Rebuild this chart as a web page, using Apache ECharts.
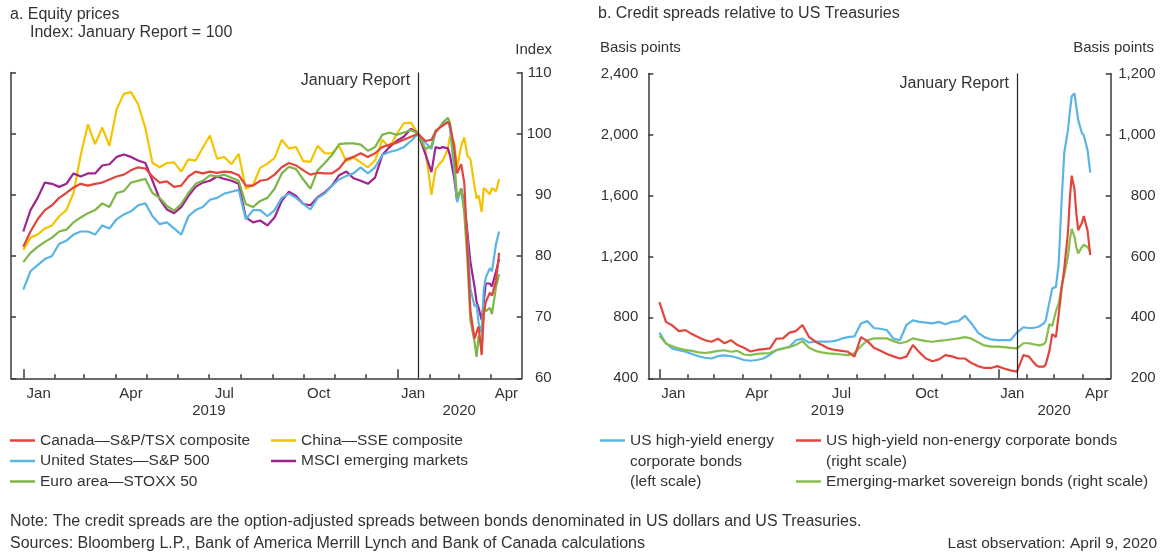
<!DOCTYPE html>
<html>
<head>
<meta charset="utf-8">
<title>Equity prices and credit spreads</title>
<script src="https://cdn.jsdelivr.net/npm/echarts@6/dist/echarts.min.js"></script>
<style>
  html, body { margin: 0; padding: 0; background: #fff; }
  #chart { width: 1167px; height: 554px; }
</style>
</head>
<body>
<div id="chart"></div>
<script>
// ---- Observation dates (weekly through 2019, denser during the 2020 sell-off) ----
const dates = [
  '2019-01-01','2019-01-08','2019-01-15','2019-01-22','2019-01-29',
  '2019-02-05','2019-02-12','2019-02-19','2019-02-26',
  '2019-03-05','2019-03-12','2019-03-19','2019-03-26',
  '2019-04-02','2019-04-09','2019-04-16','2019-04-23','2019-04-30',
  '2019-05-07','2019-05-14','2019-05-21','2019-05-28',
  '2019-06-04','2019-06-11','2019-06-18','2019-06-25',
  '2019-07-02','2019-07-09','2019-07-16','2019-07-23','2019-07-30',
  '2019-08-06','2019-08-13','2019-08-20','2019-08-27',
  '2019-09-03','2019-09-10','2019-09-17','2019-09-24',
  '2019-10-01','2019-10-08','2019-10-15','2019-10-22','2019-10-29',
  '2019-11-05','2019-11-12','2019-11-19','2019-11-26',
  '2019-12-03','2019-12-10','2019-12-17','2019-12-24','2019-12-31',
  '2020-01-07','2020-01-14','2020-01-21','2020-01-28',
  '2020-02-03','2020-02-07','2020-02-11','2020-02-14','2020-02-19','2020-02-21','2020-02-25','2020-02-28',
  '2020-03-03','2020-03-06','2020-03-09','2020-03-12','2020-03-16','2020-03-18','2020-03-20','2020-03-23','2020-03-25','2020-03-27','2020-03-31',
  '2020-04-02','2020-04-06','2020-04-09'
];

// ---- Panel a: equity indexes (January Report = 100) ----
const canadaTSX = [
  81.5, 84, 86, 87.5, 88.3,
  89.5, 90.3, 91.2, 91.8,
  91.5, 91.8, 92, 92.5,
  93, 93.3, 94, 94.5, 94.3,
  93, 92, 92.2, 91.3,
  91.5, 93, 93.8, 93.5,
  93.8, 93.6, 93.8, 93.7, 93.2,
  91.5, 91.5, 92.3, 92.5,
  93.3, 94.5, 95.2, 94.8,
  94, 93.3, 93.6, 93.5, 93.5,
  94.3, 95.8, 96.2, 96.8,
  96.2, 96.8, 97.8, 98.2, 98.5,
  99, 99.5, 100, 98.8,
  99, 100.3, 101, 101.3, 101.9, 101.5, 98, 93.5,
  95, 92, 81.5, 71, 66.5, 67.5, 68.5, 63.8, 70.5, 72.5, 74,
  73.5, 76, 80.5
];
const chinaSSE = [
  81, 83, 83.5, 84.5, 85,
  86.5, 87.5, 90.3, 96.5,
  101.5, 98.3, 101, 98,
  104, 106.5, 106.8, 104.8, 100.9,
  95.2, 94.5, 95.2, 95.3,
  93.8, 95.8, 95.6, 97.7,
  99.7, 95.9, 96.2, 95, 96.7,
  91, 91.6, 94.4, 95.1,
  96, 99, 97.6, 97.8,
  95.5, 95.4, 98, 96.8, 96.8,
  98, 95.5, 96.1, 95.3,
  94.5, 95.6, 99, 97.7, 99.9,
  101.7, 101.8, 100, 97.5,
  90, 94.2, 95.1, 95.6, 97.5, 99.6, 98.7, 94.4,
  98, 99.4, 96.4, 95.8, 91.4, 89.4, 89.9, 87.2, 91.1, 90.8, 90.1,
  91.1, 90.6, 92.6
];
const usSP500 = [
  74.5, 77.5, 78.5, 79.5, 80,
  82, 82.5, 83.5, 84,
  84, 83.5, 85, 84.5,
  86, 86.8, 87.3, 88.3, 88.6,
  86.5, 85.2, 85.5, 84.5,
  83.5, 86.5, 87.5, 88,
  89.2, 89.5, 90.2, 90.5, 90.8,
  86, 87.5, 87.5, 86.5,
  87.5, 89.5, 90.2, 89.5,
  88.5, 87.6, 89.5, 90.2, 91.5,
  92.5, 93.1, 93.5, 94.5,
  93.5, 94.5, 96.5, 97, 97.3,
  97.8, 98.8, 100, 98.5,
  97.5, 100.2, 101, 101.5, 102, 100.9, 94.5, 88.8,
  91, 88, 82.7, 74.7, 71.8, 72, 69, 67.4, 74.5, 76.5, 78,
  77.5, 82, 84
];
const msciEM = [
  84, 87.5, 89.5, 92, 91.8,
  91.3, 91.8, 93.5, 93,
  93.5, 93.5, 94.8, 95,
  96.2, 96.6, 96.2, 95.6, 95.2,
  92.3, 89.3, 87.6, 87,
  88, 89.8, 91.3, 92,
  92.3, 93, 92.6, 92.3, 91.8,
  86.3, 85.5, 85.8, 85,
  86.3, 89, 90.5, 89.8,
  88.5, 88.3, 89.6, 90.4, 91.5,
  93.2, 93.8, 92.7, 92.3,
  91.8, 92.8, 96.5, 97.8, 98.8,
  99.5, 100.8, 100, 96.7,
  93.7, 97.8, 97.6, 97.8, 97.6, 96.5, 92.9, 89.1,
  91, 88.5, 84, 79, 75, 72.5, 71.5, 69.5, 72.5, 75.5, 75.5,
  75, 77.5, 79.5
];
const euroStoxx50 = [
  79, 80.5, 81.5, 82.3, 83,
  84, 84.3, 85.5, 86.3,
  87, 87.5, 88.6, 88,
  90.3, 90.6, 92, 92.3, 92.6,
  90.3, 89.5, 88.2, 87.4,
  88.5, 90.3, 91.8, 92.3,
  93.2, 93, 93.3, 92.8, 92.3,
  88.5, 88, 89, 89.5,
  91, 93.5, 94.6, 94.2,
  92.5, 91, 94, 95.2, 96.5,
  98.3, 98.4, 98.4, 98.2,
  97.2, 97.8, 99.8, 100.2, 99.8,
  100.2, 100.6, 100, 97.5,
  98, 100.5, 101, 101.8, 102.6, 101.8, 96, 89.5,
  91, 87, 79.5, 69.5, 66, 63.5, 67, 65, 71.5, 71, 71.5,
  70.5, 75, 77
];

// ---- Panel b: option-adjusted spreads, basis points ----
const usHYEnergy = [          // left scale
  700, 630, 595, 585, 575,
  560, 545, 535, 530,
  545, 550, 545, 535,
  520, 515, 520, 530, 555,
  585, 595, 607, 650,
  660, 635, 640, 640,
  640, 645, 660, 670, 675,
  760, 775, 730, 725,
  715, 660, 650, 750,
  780, 770, 765, 760, 770,
  755, 770, 775, 810,
  760, 700, 670, 655, 650,
  650, 650, 700, 735,
  730, 730, 735, 740, 760, 780, 900, 990,
  1000, 1150, 1550, 1880, 2030, 2150, 2250, 2270, 2180, 2094, 2010,
  1995, 1900, 1750
];
const usHYNonEnergy = [       // right scale
  450, 385, 373, 355, 358,
  345, 335, 325, 320,
  330, 315, 325, 309,
  300, 288, 293, 296, 298,
  330, 331, 350, 355,
  375, 336, 320, 309,
  298, 293, 290, 287, 271,
  335, 322, 300, 290,
  280, 272, 265, 271,
  309, 285, 265, 256, 262,
  276, 272, 265, 265,
  250, 240, 234, 234, 240,
  232, 226, 222, 276,
  271, 256, 242, 238, 238, 245, 290, 345,
  335, 410, 490, 560, 680, 790, 865, 820, 740, 686, 710,
  732, 686, 604
];
const emSovereign = [         // right scale
  340, 314, 305, 298, 293,
  290, 285, 283, 286,
  290, 292, 287, 290,
  278, 276, 280, 282, 283,
  293, 298, 302, 310,
  322, 300, 290, 285,
  282, 280, 278, 276, 282,
  305, 325, 331, 331,
  331, 322, 315, 320,
  331, 326, 322, 320, 323,
  325, 328, 331, 335,
  330, 318, 308, 304, 304,
  302, 300, 298, 315,
  315, 312, 310, 308, 312, 320, 378, 372,
  420, 445, 500, 540, 600, 655, 690, 665, 630, 610, 631,
  638, 631, 615
];

// ---- Axis calendar marks ----
const axisStart = '2018-12-20';
const axisEnd = '2020-05-01';
const reportDate = '2020-01-21';
const monthStarts = [
  '2019-01-01','2019-02-01','2019-03-01','2019-04-01','2019-05-01','2019-06-01',
  '2019-07-01','2019-08-01','2019-09-01','2019-10-01','2019-11-01','2019-12-01',
  '2020-01-01','2020-02-01','2020-03-01','2020-04-01'
];
const yearStarts = ['2019-01-01', '2020-01-01'];
const monthLabelDates = ['2019-01-16','2019-04-16','2019-07-16','2019-10-16','2020-01-16','2020-04-16'];
const yearLabelDates = ['2019-07-01', '2020-03-01'];
const monthNames = ['Jan','Feb','Mar','Apr','May','Jun','Jul','Aug','Sep','Oct','Nov','Dec'];

// local-time timestamp from 'YYYY-MM-DD'
function ts(s) {
  const p = s.split('-').map(Number);
  return new Date(p[0], p[1] - 1, p[2]).getTime();
}
function pairs(values) {
  return dates.map((d, i) => [ts(d), values[i]]);
}

const INK = '#333333';
const AXIS_LINE = { color: '#3a3a3a', width: 1.5 };
const FONT = 'Liberation Sans, Arial, Helvetica, sans-serif';

const COLORS = {
  canada: '#e2453c',
  china: '#f5c400',
  us: '#5ab4e4',
  msci: '#a0248e',
  euro: '#7cb548',
  energy: '#5ab4e4',
  nonEnergy: '#e2453c',
  emSov: '#86bd4c'
};

// The date axes are numeric (ms timestamps) with explicit tick/label positions.
function monthAxis(gridIndex) {
  return {
    gridIndex: gridIndex,
    type: 'value',
    position: 'bottom',
    min: ts(axisStart),
    max: ts(axisEnd),
    axisLine: { show: true, lineStyle: AXIS_LINE },
    axisTick: { show: true, inside: true, length: 4, customValues: monthStarts.map(ts), lineStyle: AXIS_LINE },
    axisLabel: {
      show: true,
      customValues: monthLabelDates.map(ts),
      formatter: v => monthNames[new Date(v).getMonth()],
      margin: 8, color: INK, fontSize: 15
    },
    splitLine: { show: false }
  };
}
function yearAxis(gridIndex) {
  return {
    gridIndex: gridIndex,
    type: 'value',
    position: 'bottom',
    min: ts(axisStart),
    max: ts(axisEnd),
    axisLine: { show: false },
    axisTick: { show: true, inside: true, length: 9, customValues: yearStarts.map(ts), lineStyle: AXIS_LINE },
    axisLabel: {
      show: true,
      customValues: yearLabelDates.map(ts),
      formatter: v => String(new Date(v).getFullYear()),
      margin: 25, color: INK, fontSize: 15
    },
    splitLine: { show: false }
  };
}
function valueAxis(gridIndex, position, min, max, interval, label) {
  return {
    gridIndex: gridIndex,
    type: 'value',
    position: position,
    min: min, max: max, interval: interval,
    axisLine: { show: true, lineStyle: AXIS_LINE },
    axisTick: { show: true, inside: true, length: 5, lineStyle: AXIS_LINE },
    axisLabel: Object.assign({ color: INK, fontSize: 15 }, label),
    splitLine: { show: false }
  };
}
const thousands = v => v.toLocaleString('en-US');

function lineSeries(name, values, color, xAxisIndex, yAxisIndex, extra) {
  return Object.assign({
    name: name,
    type: 'line',
    xAxisIndex: xAxisIndex,
    yAxisIndex: yAxisIndex,
    data: pairs(values),
    showSymbol: false,
    symbol: 'none',
    lineStyle: { color: color, width: 2.2 },
    itemStyle: { color: color },
    emphasis: { disabled: true }
  }, extra || {});
}

function reportMarks(labelValue) {
  return {
    markLine: {
      silent: true,
      symbol: ['none', 'none'],
      label: { show: false },
      lineStyle: { color: '#222', width: 1.2, type: 'solid' },
      data: [{ xAxis: ts(reportDate) }]
    },
    markPoint: {
      silent: true,
      symbol: 'circle',
      symbolSize: 0,
      label: { show: true, position: 'left', distance: 8, formatter: 'January Report', color: INK, fontSize: 16 },
      data: [{ coord: [ts(reportDate), labelValue] }]
    }
  };
}

const titleStyle = (size) => ({ fontSize: size, fontWeight: 'normal', color: INK, lineHeight: 20 });
const legendText = { fontSize: 15.5, color: INK, lineHeight: 20 };
const legendBase = { orient: 'vertical', icon: 'rect', itemWidth: 25, itemHeight: 2.5, itemGap: 0.5, selectedMode: false, padding: 0 };

const S = {
  canada: 'Canada\u2014S&P/TSX composite',
  china: 'China\u2014SSE composite',
  us: 'United States\u2014S&P 500',
  msci: 'MSCI emerging markets',
  euro: 'Euro area\u2014STOXX 50',
  energy: 'US high-yield energy corporate bonds (left scale)',
  nonEnergy: 'US high-yield non-energy corporate bonds (right scale)',
  emSov: 'Emerging-market sovereign bonds (right scale)'
};

// wrapped continuation lines of the two long legend entries
function legendContinuation(left, top, text) {
  return {
    type: 'text', left: left, top: top, silent: true,
    style: { text: text, fill: INK, font: '15.5px ' + FONT, lineHeight: 20.5 }
  };
}

const option = {
  animation: false,
  backgroundColor: '#ffffff',
  textStyle: { fontFamily: FONT },
  title: [
    { text: 'a. Equity prices', left: 10, top: 5, padding: 0, textStyle: titleStyle(16) },
    { text: 'Index: January Report = 100', left: 30, top: 23, padding: 0, textStyle: titleStyle(16) },
    { text: 'Index', right: 615, top: 40, padding: 0, textStyle: titleStyle(15) },
    { text: 'b. Credit spreads relative to US Treasuries', left: 598, top: 4, padding: 0, textStyle: titleStyle(16) },
    { text: 'Basis points', left: 600, top: 38, padding: 0, textStyle: titleStyle(15) },
    { text: 'Basis points', right: 13, top: 38, padding: 0, textStyle: titleStyle(15) },
    { text: 'Note: The credit spreads are the option-adjusted spreads between bonds denominated in US dollars and US Treasuries.', left: 10, top: 512, padding: 0, textStyle: titleStyle(16) },
    { text: 'Sources: Bloomberg L.P., Bank of America Merrill Lynch and Bank of Canada calculations', left: 10, top: 534, padding: 0, textStyle: titleStyle(16) },
    { text: 'Last observation: April 9, 2020', right: 10, top: 534, padding: 0, textStyle: titleStyle(15.5) }
  ],
  legend: [
    Object.assign({}, legendBase, { left: 10, top: 430.5, data: [S.canada, S.us, S.euro], textStyle: legendText }),
    Object.assign({}, legendBase, { left: 271, top: 430.5, data: [S.china, S.msci], textStyle: legendText }),
    Object.assign({}, legendBase, {
      left: 600, top: 430.5, data: [S.energy],
      formatter: () => 'US high-yield energy', textStyle: legendText
    }),
    Object.assign({}, legendBase, {
      left: 796, top: 430.5, data: [S.nonEnergy],
      formatter: () => 'US high-yield non-energy corporate bonds', textStyle: legendText
    }),
    Object.assign({}, legendBase, { left: 796, top: 471.5, data: [S.emSov], textStyle: legendText })
  ],
  graphic: [
    legendContinuation(630, 451, 'corporate bonds\n(left scale)'),
    legendContinuation(826, 451, '(right scale)')
  ],
  grid: [
    { left: 11, right: 645.3, top: 72.5, bottom: 175.7, containLabel: false },
    { left: 648.3, right: 56.3, top: 73.5, bottom: 175.7, containLabel: false }
  ],
  xAxis: [monthAxis(0), yearAxis(0), monthAxis(1), yearAxis(1)],
  yAxis: [
    valueAxis(0, 'left', 60, 110, 10, { show: false }),
    valueAxis(0, 'right', 60, 110, 10, { show: true, align: 'right', margin: 30 }),
    valueAxis(1, 'left', 400, 2400, 400, { show: true, margin: 10, formatter: thousands }),
    valueAxis(1, 'right', 200, 1200, 200, { show: true, align: 'right', margin: 45, formatter: thousands })
  ],
  series: [
    lineSeries(S.china, chinaSSE, COLORS.china, 0, 0, reportMarks(108.7)),
    lineSeries(S.msci, msciEM, COLORS.msci, 0, 0),
    lineSeries(S.us, usSP500, COLORS.us, 0, 0),
    lineSeries(S.euro, euroStoxx50, COLORS.euro, 0, 0),
    lineSeries(S.canada, canadaTSX, COLORS.canada, 0, 0),
    lineSeries(S.energy, usHYEnergy, COLORS.energy, 2, 2, reportMarks(2334)),
    lineSeries(S.emSov, emSovereign, COLORS.emSov, 2, 3),
    lineSeries(S.nonEnergy, usHYNonEnergy, COLORS.nonEnergy, 2, 3)
  ]
};

const chart = echarts.init(document.getElementById('chart'), null, { renderer: 'canvas' });
chart.setOption(option);
</script>
</body>
</html>
